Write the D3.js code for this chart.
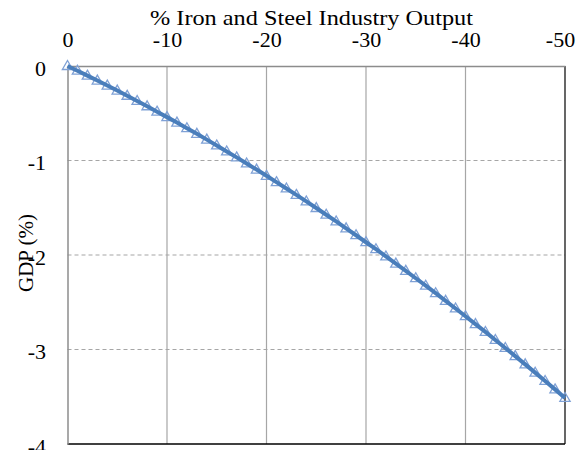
<!DOCTYPE html>
<html><head><meta charset="utf-8">
<script src="https://cdn.jsdelivr.net/npm/d3@7"></script>
<style>body{margin:0;background:#fff}svg{display:block}text{font-family:"Liberation Serif","Times New Roman",serif;fill:#000}</style>
</head><body><svg id="c" width="581" height="450"></svg>
<script>
const xTicks = [0, -10, -20, -30, -40, -50];
const yTicks = [0, -1, -2, -3, -4];
const ironOutput = [0,-1,-2,-3,-4,-5,-6,-7,-8,-9,-10,-11,-12,-13,-14,-15,-16,-17,-18,-19,-20,-21,-22,-23,-24,-25,-26,-27,-28,-29,-30,-31,-32,-33,-34,-35,-36,-37,-38,-39,-40,-41,-42,-43,-44,-45,-46,-47,-48,-49,-50];
const gdp = [0,-0.050,-0.102,-0.154,-0.207,-0.260,-0.315,-0.370,-0.426,-0.483,-0.541,-0.599,-0.658,-0.718,-0.779,-0.841,-0.904,-0.967,-1.031,-1.096,-1.162,-1.229,-1.296,-1.364,-1.433,-1.503,-1.574,-1.645,-1.718,-1.791,-1.865,-1.939,-2.015,-2.091,-2.168,-2.246,-2.325,-2.404,-2.485,-2.566,-2.648,-2.731,-2.814,-2.899,-2.984,-3.070,-3.157,-3.245,-3.333,-3.422,-3.513];
const xTitle = "% Iron and Steel Industry Output";
const yTitle = "GDP (%)";

const svg = d3.select("#c");
const L = 67.5, R = 565, T = 66, B = 444;
const x = d3.scaleLinear().domain([0, -50]).range([L, R]);
const y = d3.scaleLinear().domain([0, -4]).range([T, B]);
const fmt = d => String(d);

// gridlines
svg.append("g").selectAll("line").data(xTicks.slice(1, -1)).join("line")
  .attr("x1", d => x(d)).attr("x2", d => x(d)).attr("y1", T).attr("y2", B)
  .attr("stroke", "#a6a6a6").attr("stroke-width", 1.2);
svg.append("g").selectAll("line").data(yTicks.slice(1, -1)).join("line")
  .attr("x1", L).attr("x2", R).attr("y1", d => y(d)).attr("y2", d => y(d))
  .attr("stroke", "#a6a6a6").attr("stroke-width", 1.2).attr("stroke-dasharray", "4,3");

// border right and bottom (black)
svg.append("line").attr("x1", R).attr("x2", R).attr("y1", T).attr("y2", B).attr("stroke", "#000").attr("stroke-width", 1.2);
svg.append("line").attr("x1", L).attr("x2", R).attr("y1", B).attr("y2", B).attr("stroke", "#000").attr("stroke-width", 1.5);

// axes (gray) top and left
const xAxis = svg.append("g").attr("transform", `translate(0,${T})`)
  .call(d3.axisTop(x).tickValues(xTicks).tickSize(0).tickPadding(19).tickFormat(fmt));
const yAxis = svg.append("g").attr("transform", `translate(${L},0)`)
  .call(d3.axisLeft(y).tickValues(yTicks).tickSize(0).tickPadding(21.5).tickFormat(fmt));
[xAxis, yAxis].forEach(a => {
  a.select(".domain").attr("stroke", "#8c8c8c").attr("stroke-width", 1.5);
  a.selectAll("text").attr("font-size", 22).attr("font-family", "Liberation Serif").attr("fill", "#000");
});
yAxis.selectAll("text").attr("dy", "0.43em");
xAxis.selectAll("text").filter(d => d === -50).attr("dx", -5);

// markers
const tri = d3.symbol().type(d3.symbolTriangle).size(46);
svg.append("g").selectAll("path").data(ironOutput).join("path")
  .attr("d", tri)
  .attr("transform", (d, i) => `translate(${x(d)},${y(gdp[i]) + 0.5})`)
  .attr("fill", "none").attr("stroke", "#7fa1d6").attr("stroke-width", 1.3);

// line
svg.append("path").datum(ironOutput)
  .attr("fill", "none").attr("stroke", "#4a7ebb").attr("stroke-width", 4)
  .attr("d", d3.line().x(d => x(d)).y((d, i) => y(gdp[i])));

// titles
svg.append("text").attr("x", 150).attr("y", 25).attr("font-size", 22)
  .attr("textLength", 323).attr("lengthAdjust", "spacingAndGlyphs").text(xTitle);
svg.append("text").attr("transform", "translate(33,253) rotate(-90)").attr("text-anchor", "middle").attr("font-size", 21).text(yTitle);
</script></body></html>
